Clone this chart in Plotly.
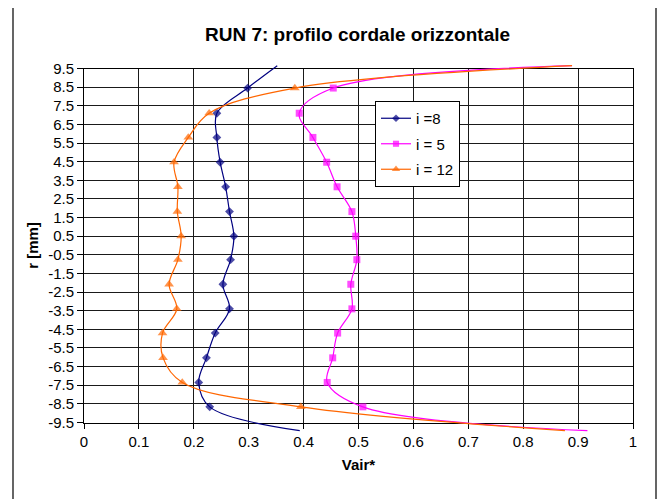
import plotly.graph_objects as go

# ---------------- data ----------------
R_MM = [9.65, 8.45, 7.1, 5.8, 4.47, 3.15, 1.82, 0.5, -0.76, -2.08, -3.4, -4.7, -6.03, -7.35, -8.66, -9.94]
VAIR_I8 = [0.352, 0.298, 0.242, 0.242, 0.248, 0.258, 0.265, 0.273, 0.267, 0.253, 0.265, 0.239, 0.223, 0.209, 0.229, 0.393]
VAIR_I5 = [0.889, 0.454, 0.392, 0.417, 0.442, 0.461, 0.488, 0.495, 0.497, 0.486, 0.488, 0.462, 0.453, 0.443, 0.508, 0.917]
VAIR_I12 = [0.889, 0.384, 0.228, 0.190, 0.164, 0.171, 0.170, 0.177, 0.171, 0.155, 0.169, 0.143, 0.144, 0.179, 0.395, 0.876]
SERIES_NAMES = ["i =8", "i = 5", "i = 12"]
Y_TICKS = [9.5, 8.5, 7.5, 6.5, 5.5, 4.5, 3.5, 2.5, 1.5, 0.5, -0.5, -1.5, -2.5, -3.5,
           -4.5, -5.5, -6.5, -7.5, -8.5, -9.5]
TITLE = "RUN 7: profilo cordale orizzontale"
X_TITLE = "Vair*"
Y_TITLE = "r [mm]"

# ---------------- geometry (page body adds an 8px offset) ----------------
OFF = 8
W, H = 667 - OFF, 499 - OFF
ML, MR, MT, MB = 84 - OFF, 34, 63 - OFF, 66
PLOT_TOP, PLOT_BOT = 68.5 - OFF, 422.5 - OFF
paper_h = H - MT - MB
Y_MIN, Y_MAX = -9.5, 9.5


def py(px):
    return (H - MB - px) / paper_h


def px_x(px):
    return (px - ML) / (W - ML - MR)


ppu = (PLOT_BOT - PLOT_TOP) / (Y_MAX - Y_MIN)
data_y_range = [Y_MIN - (H - MB - PLOT_BOT) / ppu, Y_MAX + (PLOT_TOP - MT) / ppu]

FONT = "Liberation Sans, Arial, sans-serif"

styles = [
    ("#000080", "diamond", 6.8),
    ("#FF00FF", "square", 7),
    ("#FF6600", "triangle-up", 8.5),
]

fig = go.Figure()
# empty trace so that the framed grid subplot (x, y) is drawn
fig.add_trace(go.Scatter(x=[], y=[], xaxis="x", yaxis="y", showlegend=False, hoverinfo="skip"))
for name, vals, (color, sym, sz) in zip(SERIES_NAMES, [VAIR_I8, VAIR_I5, VAIR_I12], styles):
    sizes = [sz if Y_MIN <= r <= Y_MAX else 0 for r in R_MM]
    fig.add_trace(go.Scatter(
        x=vals, y=R_MM, xaxis="x2", yaxis="y2",
        mode="lines+markers", name=name, legendgroup=name,
        line=dict(color=color, width=1.2, shape="spline", smoothing=1.0),
        marker=dict(symbol=sym, size=sizes, color=color, line=dict(width=0)),
    ))

GRID = "#1a1a1a"
fig.update_layout(
    template="none",
    width=W, height=H,
    margin=dict(l=ML, r=MR, t=MT, b=MB, pad=0),
    paper_bgcolor="white",
    plot_bgcolor="rgba(0,0,0,0)",
    font=dict(family=FONT, color="black", size=15),
    title=dict(text="<b>" + TITLE + "</b>", font=dict(size=19, family=FONT, color="black"),
               xref="paper", x=px_x(357.5 - OFF), xanchor="center",
               yref="container", y=1 - (34 - OFF) / H, yanchor="middle"),
    xaxis=dict(domain=[0, 1], anchor="y", range=[0, 1], tick0=0, dtick=0.1,
               showgrid=True, gridcolor=GRID, gridwidth=1, zeroline=False,
               showline=True, mirror=True, linecolor="black", linewidth=1,
               ticks="outside", ticklen=5, tickcolor="black", tickwidth=1,
               tickfont=dict(size=15, family=FONT, color="black"),
               title=dict(text="<b>" + X_TITLE + "</b>", font=dict(size=15, family=FONT, color="black"),
                          standoff=10)),
    yaxis=dict(domain=[py(PLOT_BOT), py(PLOT_TOP)], anchor="x", range=[Y_MIN, Y_MAX],
               tickmode="array", tickvals=Y_TICKS, ticktext=[f"{v:.1f}" for v in Y_TICKS],
               showgrid=True, gridcolor=GRID, gridwidth=1, zeroline=False,
               showline=True, mirror=True, linecolor="black", linewidth=1,
               ticks="outside", ticklen=6, tickcolor="black", tickwidth=1,
               tickfont=dict(size=15, family=FONT, color="black"),
               title=dict(text="<b>" + Y_TITLE + "</b>", font=dict(size=15, family=FONT, color="black"),
                          standoff=5)),
    xaxis2=dict(domain=[0, 1], anchor="y2", range=[0, 1], visible=False),
    yaxis2=dict(domain=[0, 1], anchor="x2", range=data_y_range, visible=False),
    showlegend=True,
    legend=dict(x=px_x(375 - OFF), xanchor="left", y=py(101 - OFF), yanchor="top",
                bgcolor="white", bordercolor="black", borderwidth=1,
                font=dict(size=15, family=FONT, color="black"),
                itemwidth=30, traceorder="grouped", tracegroupgap=3),
    shapes=[dict(type="rect", xref="paper", yref="paper",
                 x0=px_x(13 - OFF), x1=px_x(656 - OFF), y0=py(501 - OFF), y1=py(6 - OFF),
                 line=dict(color="black", width=1.2), fillcolor="rgba(0,0,0,0)", layer="below")],
)

fig.write_html("out.html")
